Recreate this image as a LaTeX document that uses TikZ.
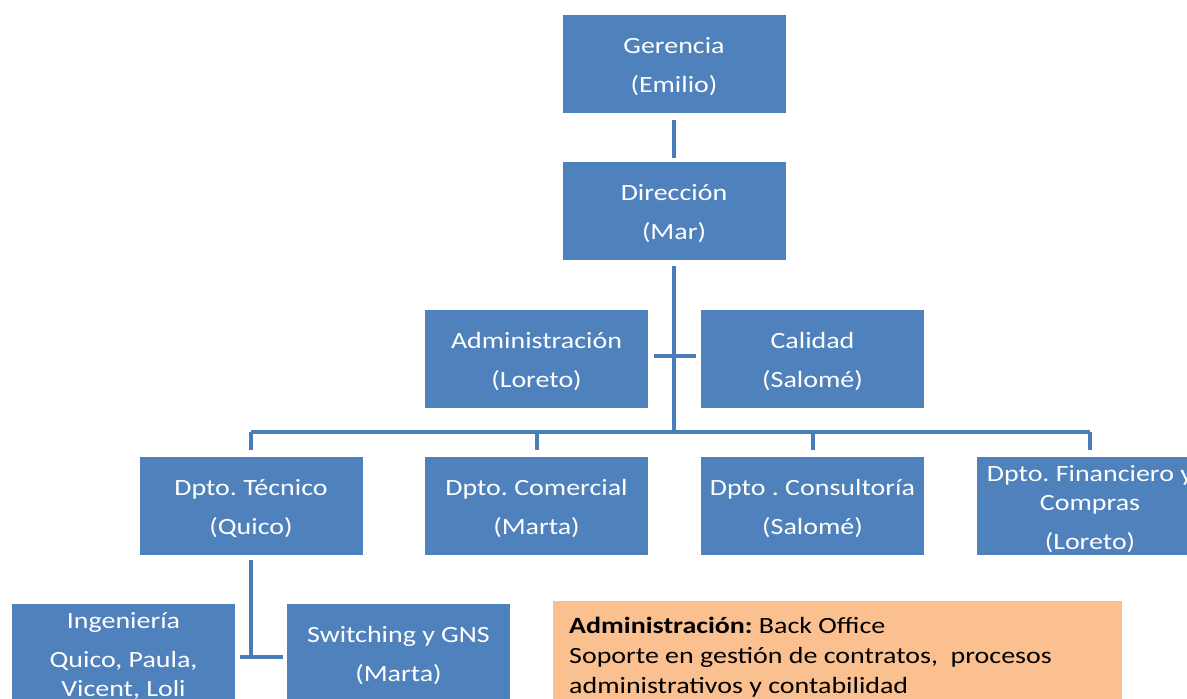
\documentclass[tikz,border=0pt]{standalone}
\usepackage{fontspec}
\newfontfamily\boxfont[FakeStretch=1.2]{Carlito}
\definecolor{boxblue}{HTML}{4F81BD}
\definecolor{lineblue}{HTML}{4A7EBB}
\definecolor{notebg}{HTML}{FAC090}
\frenchspacing
\newcommand{\orgnode}[4][223pt]{%
  \node[orgbox,minimum width=#1] (#2) at (#3) {};
  \node[orgtext] (#2-t) at ([yshift=-3pt]#2.center) {#4};}
\begin{document}
\begin{tikzpicture}[x=1pt,y=-1pt,
  orgbox/.style={fill=boxblue,draw=none,minimum height=98pt,inner sep=0pt},
  orgtext/.style={inner sep=0pt,text=white,align=center,font=\boxfont\fontsize{23.3}{29}\selectfont},
  conn/.style={draw=lineblue,line width=4pt}]
\useasboundingbox (0,0) rectangle (1187,699);
\clip (0,0) rectangle (1187,699);
\fill[white] (0,0) rectangle (1187,699);
\orgnode{ger}{674,64}{Gerencia\\[10pt](Emilio)}
\orgnode{dir}{674,211}{Dirección\\[10pt](Mar)}
\orgnode{adm}{536.5,359}{Administración\\[10pt](Loreto)}
\orgnode{cal}{812.5,359}{Calidad\\[10pt](Salomé)}
\orgnode{tec}{251,506}{Dpto. Técnico\\[10pt](Quico)}
\orgnode{com}{536.5,506}{Dpto. Comercial\\[10pt](Marta)}
\orgnode{con}{812.5,506}{Dpto . Consultoría\\[10pt](Salomé)}
\orgnode[226pt]{fin}{1090,506}{Dpto. Financiero y\\Compras\\[10pt](Loreto)}
\orgnode{ing}{123.5,653}{Ingeniería\\[10pt]Quico, Paula,\\Vicent, Loli}
\orgnode{sw}{398.5,653}{Switching y GNS\\[10pt](Marta)}
\node[fill=notebg,draw=none,minimum width=569pt,minimum height=104pt,inner sep=0pt,anchor=north west] (note) at (553,601) {};
\node[anchor=north west,inner sep=0pt,align=left,text=black,font=\boxfont\fontsize{23.3}{30}\selectfont] (notetext) at (569,617)
  {\textbf{Administración:} Back Office\\Soporte en gestión de contratos,~ procesos\\administrativos y contabilidad};
\coordinate (bus) at (674,432);
\coordinate (tj) at (251,657);
\draw[conn] ([yshift=-7pt]ger.south) -- ([yshift=4pt]dir.north);
\draw[conn] ([yshift=-6pt]dir.south) -- (bus);
\draw[conn] ([xshift=6pt,yshift=3pt]adm.east) -- ([xshift=-5pt,yshift=3pt]cal.west);
\draw[conn] (tec.north |- bus) -- (fin.north |- bus);
\foreach \n in {tec,com,con,fin} \draw[conn] (\n.north |- bus) -- ([yshift=7pt]\n.north);
\draw[conn] ([yshift=-5pt]tec.south) -- (tj);
\draw[conn] (ing.east |- tj) ++(5,0) -- ([xshift=-4pt]sw.west |- tj);
\end{tikzpicture}
\end{document}
